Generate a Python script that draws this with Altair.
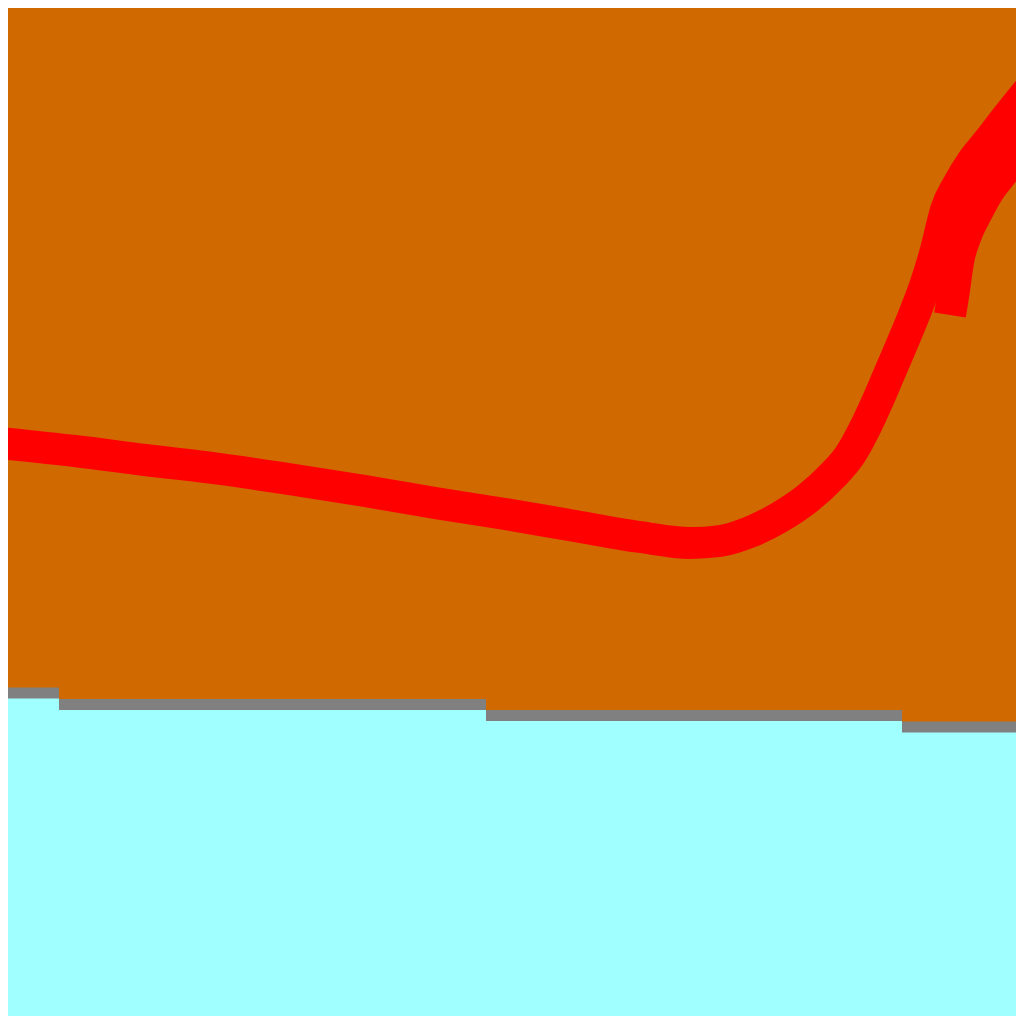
import altair as alt
import pandas as pd

# ground level: a stepped boundary
step_start = [0, 59, 486, 902]
step_end = [59, 486, 902, 1030]
step_level = [693, 704.5, 715.5, 727]

# red curve, centre line
curve_x = [0, 75, 145, 220, 295, 365, 435, 505, 575, 640, 690, 720, 750,
           780, 808, 832, 850, 865, 878, 890, 902, 914, 926, 936, 946, 958,
           972, 988, 1005, 1030]
curve_y = [443, 451, 460, 469, 480, 491, 503, 514, 526, 537, 543, 541, 532,
           517, 498, 476, 455, 428, 400, 372, 344, 315, 283, 250, 210, 185,
           162, 142, 120, 89]

# short second branch that thickens the curve near the top right
branch_x = [950, 954, 958, 966, 977, 988, 1000, 1013, 1030]
branch_y = [315, 290, 262, 235, 212, 192, 176, 160, 138]

ORANGE = '#D06A00'
CYAN = '#A0FFFF'
GREY = '#808080'
RED = '#FF0000'

steps = pd.DataFrame({'start': step_start, 'end': step_end, 'level': step_level})
ground = pd.DataFrame({'x': step_start + [step_end[-1]],
                       'level': step_level + [step_level[-1]]})
curve = pd.concat([
    pd.DataFrame({'x': curve_x, 'y': curve_y, 'part': 'main'}),
    pd.DataFrame({'x': branch_x, 'y': branch_y, 'part': 'branch'}),
])

xs = alt.Scale(domain=[8, 1016], nice=False, zero=False)
ys = alt.Scale(domain=[8, 1016], nice=False, zero=False, reverse=True)

floor = alt.Chart(ground).mark_area(
    interpolate='step-after', color=CYAN, clip=True
).encode(
    x=alt.X('x:Q', scale=xs, axis=None),
    y=alt.Y('level:Q', scale=ys, axis=None),
    y2=alt.datum(1016),
)

edge = alt.Chart(steps).mark_rule(
    color=GREY, strokeWidth=11, strokeCap='butt', clip=True
).encode(
    x=alt.X('start:Q', scale=xs, axis=None),
    x2='end:Q',
    y=alt.Y('level:Q', scale=ys, axis=None),
)

line = alt.Chart(curve).mark_line(
    color=RED, strokeWidth=32, interpolate='monotone', clip=True
).encode(
    x=alt.X('x:Q', scale=xs, axis=None),
    y=alt.Y('y:Q', scale=ys, axis=None),
    detail='part:N',
)

chart = alt.layer(floor, edge, line).properties(
    width=1008,
    height=1008,
    padding=0,
    background=ORANGE,
    autosize=alt.AutoSizeParams(type='fit', contains='padding'),
).configure_view(
    stroke=None,
    fill=ORANGE,
)

chart.save('out.html', embed_options={'renderer': 'svg', 'actions': False})
